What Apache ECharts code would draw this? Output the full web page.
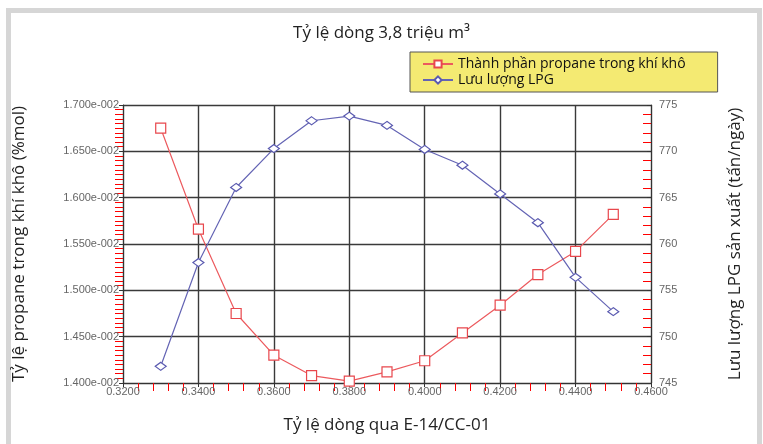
<!DOCTYPE html>
<html>
<head>
    <meta charset="UTF-8">
    <script src="https://cdn.jsdelivr.net/npm/echarts@6/dist/echarts.min.js"></script>
    <style>
        html, body { margin: 0; padding: 0; background: #fff; }
    </style>
</head>
<body>
<div id="chartMain" style="width: 763px; height: 444px;"></div>

<script type="text/javascript">
    // ty le dong qua E-14/CC-01
    var x_ratio = [0.33, 0.34, 0.35, 0.36, 0.37, 0.38, 0.39, 0.40, 0.41, 0.42, 0.43, 0.44, 0.45];
    // thanh phan propane (%mol)
    var y_propane = [0.01675, 0.01566, 0.01475, 0.01430, 0.01408, 0.01402, 0.01412, 0.01424, 0.01454, 0.01484, 0.01517, 0.01542, 0.01582];
    // luu luong LPG (tan/ngay)
    var y_lpg = [746.8, 758.0, 766.1, 770.3, 773.3, 773.8, 772.8, 770.2, 768.5, 765.4, 762.3, 756.4, 752.7];

    var name_propane = 'Thành phần propane trong khí khô';
    var name_lpg = 'Lưu lượng LPG';

    var data_propane = [];
    var data_lpg = [];
    for (var i = 0; i < x_ratio.length; i++) {
        data_propane.push([x_ratio[i], y_propane[i]]);
        data_lpg.push([x_ratio[i], y_lpg[i]]);
    }

    var tickFont = {
        color: '#666',
        fontSize: 11,
        fontFamily: 'Liberation Sans'
    };
    var nameFont = {
        color: '#222',
        fontSize: 17,
        fontFamily: 'Open Sans'
    };

    var myChart = echarts.init(document.getElementById('chartMain'));
    var option = {
        backgroundColor: '#fff',
        animation: false,
        graphic: [{
            type: 'rect',
            z: -10,
            shape: {x: 8.5, y: 10.5, width: 751, height: 460},
            style: {fill: 'transparent', stroke: '#d6d6d6', lineWidth: 5},
            silent: true
        }],
        title: {
            text: 'Tỷ lệ dòng 3,8 triệu m³',
            left: 'center',
            top: 20,
            textStyle: {color: '#222', fontSize: 17, fontWeight: 'normal', fontFamily: 'Open Sans'}
        },
        legend: {
            orient: 'vertical',
            left: 410,
            top: 52,
            padding: [5, 32, 5, 12],
            itemGap: 2,
            itemWidth: 30,
            itemHeight: 9,
            backgroundColor: '#f4ea72',
            borderColor: '#555',
            borderWidth: 1,
            textStyle: {color: '#111', fontSize: 14, fontFamily: 'Open Sans'},
            data: [name_propane, name_lpg]
        },
        grid: {left: 123, right: 112, top: 105, bottom: 61},
        xAxis: {
            type: 'value',
            name: 'Tỷ lệ dòng qua E-14/CC-01',
            nameLocation: 'middle',
            nameGap: 34,
            nameTextStyle: nameFont,
            min: 0.32,
            max: 0.46,
            interval: 0.02,
            axisLine: {lineStyle: {color: '#333'}},
            axisTick: {inside: false, length: 4, lineStyle: {color: '#333'}},
            minorTick: {show: true, splitNumber: 5, length: 8, lineStyle: {color: 'red'}},
            axisLabel: {
                margin: 3,
                formatter: function (v) { return v.toFixed(4); },
                color: tickFont.color, fontSize: tickFont.fontSize, fontFamily: tickFont.fontFamily
            },
            splitLine: {show: true, lineStyle: {color: '#3a3a3a', width: 1.4}}
        },
        yAxis: [{
            type: 'value',
            name: 'Tỷ lệ propane trong khí khô (%mol)',
            nameLocation: 'middle',
            nameGap: 95,
            nameTextStyle: nameFont,
            min: 0.014,
            max: 0.017,
            interval: 0.0005,
            axisLine: {show: true, lineStyle: {color: '#333'}},
            axisTick: {show: true, inside: false, length: 4, lineStyle: {color: '#333'}},
            minorTick: {show: true, splitNumber: 10, length: 8, lineStyle: {color: 'red'}},
            axisLabel: {
                margin: 4,
                formatter: function (v) { return (v * 100).toFixed(3) + 'e-002'; },
                color: tickFont.color, fontSize: tickFont.fontSize, fontFamily: tickFont.fontFamily
            },
            splitLine: {show: true, lineStyle: {color: '#3a3a3a', width: 1.4}}
        }, {
            type: 'value',
            name: 'Lưu lượng LPG sản xuất (tấn/ngày)',
            nameLocation: 'middle',
            nameGap: 76,
            nameRotate: 90,
            nameTextStyle: nameFont,
            min: 745,
            max: 775,
            interval: 5,
            axisLine: {show: true, lineStyle: {color: '#333'}},
            axisTick: {show: true, inside: true, length: 4, lineStyle: {color: '#333'}},
            minorTick: {show: true, splitNumber: 5, length: 8, lineStyle: {color: 'red'}},
            axisLabel: {
                margin: 8,
                color: tickFont.color, fontSize: tickFont.fontSize, fontFamily: tickFont.fontFamily
            },
            splitLine: {show: false}
        }],
        series: [
            {
                name: name_propane,
                type: 'line',
                yAxisIndex: 0,
                data: data_propane,
                symbol: 'rect',
                symbolSize: 10,
                lineStyle: {color: '#ec5a5e', width: 1.2},
                itemStyle: {color: '#fff', borderColor: '#e8474c', borderWidth: 1.2}
            },
            {
                name: name_lpg,
                type: 'line',
                yAxisIndex: 1,
                data: data_lpg,
                symbol: 'diamond',
                symbolSize: [11, 8],
                lineStyle: {color: '#6464b4', width: 1.2},
                itemStyle: {color: '#fff', borderColor: '#5a5ab0', borderWidth: 1.2}
            }
        ]
    };
    myChart.setOption(option);
</script>
</body>
</html>
